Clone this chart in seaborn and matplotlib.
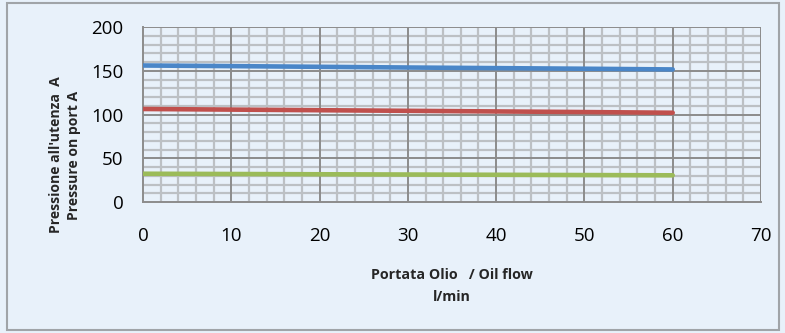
import matplotlib
matplotlib.use("Agg")
import matplotlib.pyplot as plt
import seaborn as sns
import pandas as pd
from matplotlib.patches import Rectangle
from matplotlib.ticker import MultipleLocator

flow = [0, 10, 20, 30, 40, 50, 60]
p_blue = [156, 155.3, 154.5, 153.7, 153, 152.3, 151.5]
p_red = [106.3, 105.6, 104.9, 104.2, 103.5, 102.8, 102]
p_green = [32.3, 32, 31.7, 31.4, 31.1, 30.8, 30.5]
series_names = ["s1", "s2", "s3"]
colors = ["#4A86C8", "#C0504D", "#9BBB59"]

df = pd.concat([
    pd.DataFrame({"flow": flow, "p": vals, "s": name})
    for name, vals in zip(series_names, [p_blue, p_red, p_green])
])

sns.set_style("white")
plt.rcParams["font.family"] = ["Open Sans", "DejaVu Sans"]

bg = "#E8F1FA"
fig = plt.figure(figsize=(7.85, 3.33), dpi=100, facecolor=bg)
fig.patches.append(Rectangle((7/785, 3/333), 772/785, 327/333, transform=fig.transFigure,
                             fill=False, edgecolor="#A0A4A8", linewidth=1.5))
ax = fig.add_axes([143/785, 1-202/333, (761-143)/785, (202-27)/333])
ax.set_facecolor(bg)

sns.lineplot(data=df, x="flow", y="p", hue="s", palette=colors, linewidth=3.3,
             legend=False, ax=ax, zorder=5)

ax.set_xlim(0, 70)
ax.set_ylim(0, 200)
ax.xaxis.set_major_locator(MultipleLocator(10))
ax.xaxis.set_minor_locator(MultipleLocator(2))
ax.yaxis.set_major_locator(MultipleLocator(50))
ax.yaxis.set_minor_locator(MultipleLocator(10))
ax.grid(which="minor", color="#BCC0C4", linewidth=1.6)
ax.grid(which="major", visible=False)
ax.set_axisbelow(True)
# major gridlines drawn above the minor grid, at the major tick positions
for xv in ax.get_xticks():
    if 0 < xv <= 70:
        ax.axvline(xv, color="#8C8C8C", linewidth=1.4, zorder=2)
for yv in ax.get_yticks():
    if 0 < yv <= 200:
        ax.axhline(yv, color="#8C8C8C", linewidth=1.4, zorder=2)
ax.set_xlim(0, 70)
ax.set_ylim(0, 200)
for side in ["top", "right"]:
    ax.spines[side].set_visible(False)
for side in ["left", "bottom"]:
    ax.spines[side].set_color("#8C8C8C")
    ax.spines[side].set_linewidth(1.4)

ax.tick_params(axis="both", which="major", direction="out", length=5, width=1.2,
               color="#8C8C8C", labelsize=13.5, labelcolor="black")
ax.tick_params(axis="x", which="major", pad=13)
ax.tick_params(axis="y", which="major", pad=9)
ax.tick_params(which="minor", length=0)
ax.set_xlabel("")
ax.set_ylabel("")

fig.text(452/785, 1-275/333, "Portata Olio   / Oil flow", ha="center", va="center",
         fontsize=10.3, fontweight="bold")
fig.text(452/785, 1-297/333, "l/min", ha="center", va="center",
         fontsize=10.3, fontweight="bold")
fig.text(65/785, 1-155/333, "Pressione all'utenza  A\nPressure on port A", ha="center",
         va="center", rotation=90, fontsize=10.1, fontweight="bold", linespacing=1.45)

fig.savefig("out.png", dpi=100, facecolor=bg)
